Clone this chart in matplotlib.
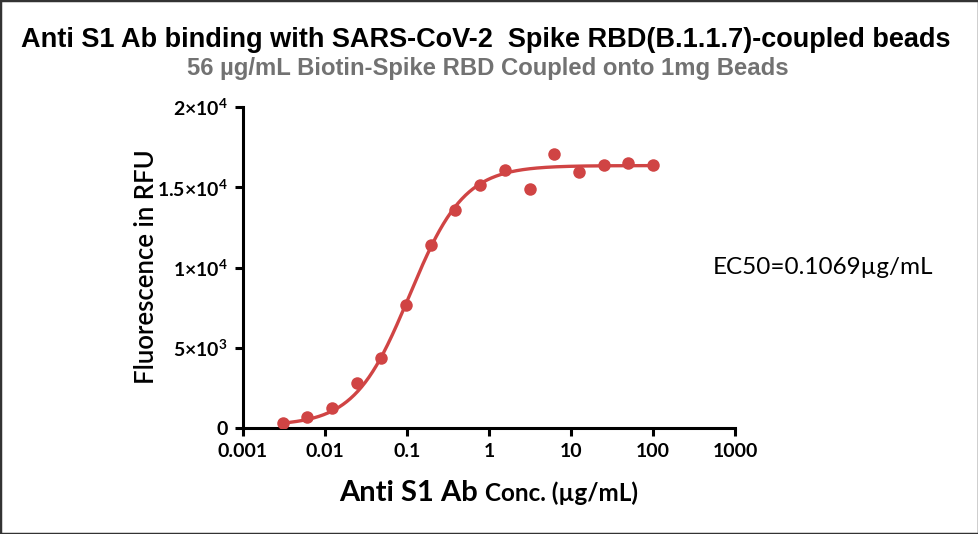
import numpy as np
import matplotlib
matplotlib.use("Agg")
import matplotlib.pyplot as plt
from matplotlib.patches import Rectangle

# ---- data ----
conc = [0.00305, 0.0061, 0.0122, 0.0244, 0.0488, 0.0977, 0.195, 0.39, 0.781,
        1.5625, 3.125, 6.25, 12.5, 25, 50, 100]
rfu = [293, 667, 1246, 2785, 4343, 7664, 11402, 13583, 15140,
       16075, 14872, 17072, 15970, 16386, 16492, 16386]
# 4PL fit parameters
fit_bottom = 150
fit_top = 16350
fit_ec50 = 0.1069
fit_hill = 1.3

x_ticks = [0.001, 0.01, 0.1, 1, 10, 100, 1000]
x_ticklabels = ["0.001", "0.01", "0.1", "1", "10", "100", "1000"]
y_ticks = [0, 5000, 10000, 15000, 20000]
y_ticklabels = ["0", r"$\mathregular{5×10^3}$", r"$\mathregular{1×10^4}$",
                r"$\mathregular{1.5×10^4}$", r"$\mathregular{2×10^4}$"]

title = "Anti S1 Ab binding with SARS-CoV-2  Spike RBD(B.1.1.7)-coupled beads"
subtitle = "56 µg/mL Biotin-Spike RBD Coupled onto 1mg Beads"
ec50_text = "EC50=0.1069µg/mL"

plt.rcParams['mathtext.fontset'] = 'custom'
plt.rcParams['mathtext.rm'] = 'Lato:bold'
plt.rcParams['mathtext.it'] = 'Lato:bold'
plt.rcParams['mathtext.bf'] = 'Lato:bold'

red = '#d04444'
W, H = 979, 534
fig = plt.figure(figsize=(W/100, H/100), dpi=100)
ax = fig.add_axes([243/W, 1-428/H, (735-243)/W, (428-107)/H])

xs = np.logspace(np.log10(conc[0]), np.log10(conc[-1]), 400)
ys = fit_bottom + (fit_top - fit_bottom) / (1 + (fit_ec50/xs)**fit_hill)
ax.plot(xs, ys, color=red, lw=2.4, zorder=3, solid_capstyle='round')
ax.plot(conc, rfu, 'o', color=red, ms=9, zorder=4, mec='none')

ax.set_xscale('log')
ax.set_xlim(0.001, 1000)
ax.set_ylim(0, 20000)
ax.set_xticks(x_ticks)
ax.set_xticklabels(x_ticklabels)
ax.xaxis.set_minor_locator(matplotlib.ticker.NullLocator())
ax.set_yticks(y_ticks)
ax.set_yticklabels(y_ticklabels)

for s in ['top', 'right']:
    ax.spines[s].set_visible(False)
for s in ['left', 'bottom']:
    ax.spines[s].set_linewidth(2.2)
ax.tick_params(axis='both', which='major', length=6, width=2.2, direction='out',
               labelsize=14, pad=5)
for lab in ax.get_xticklabels() + ax.get_yticklabels():
    lab.set_fontfamily('Lato')
    lab.set_fontweight('bold')
ax.patch.set_visible(False)

fig.text(486/W, 1-40/H, title, ha='center', va='center', fontsize=19.5,
         fontweight='bold', family='Liberation Sans')
fig.text(488/W, 1-69/H, subtitle, ha='center', va='center', fontsize=17.2,
         fontweight='bold', family='Liberation Sans', color='#727272')
fig.text(146/W, 1-267/H, "Fluorescence in RFU", rotation=90, ha='center', va='center',
         fontsize=18.5, fontweight='semibold', family='Lato')
fig.text(823/W, 1-267/H, ec50_text, ha='center', va='center', fontsize=17.5,
         family='Lato')

# x label with two sizes
renderer = fig.canvas.get_renderer()
t1 = fig.text(0, 1-501/H, "Anti S1 Ab ", fontsize=21, fontweight='bold', family='Lato',
              va='baseline', ha='left')
t2 = fig.text(0, 1-501/H, "Conc. (µg/mL)", fontsize=17.5, fontweight='bold', family='Lato',
              va='baseline', ha='left')
w1 = t1.get_window_extent(renderer).width
w2 = t2.get_window_extent(renderer).width
x0 = 489 - (w1 + w2) / 2
t1.set_x(x0/W)
t2.set_x((x0 + w1)/W)

fig.patches.append(Rectangle((0, 0), 1, 1, transform=fig.transFigure, fill=False,
                             edgecolor='#333333', lw=2.5))
fig.savefig('out.png', dpi=100)
